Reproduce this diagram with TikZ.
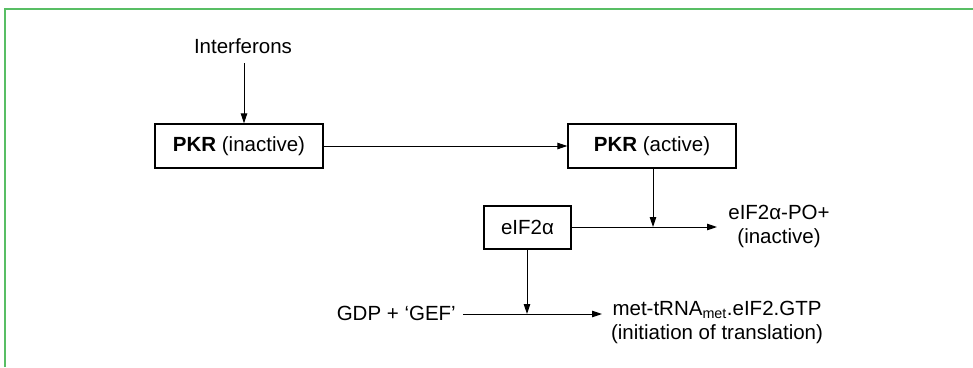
\documentclass[tikz,border=0pt]{standalone}
\usepackage{fontspec}
\setmainfont{Liberation Sans}
\usetikzlibrary{arrows.meta}
\definecolor{framegreen}{RGB}{88,190,100}
\tikzset{
  txt/.style={inner sep=0pt, font=\fontsize{20.5}{24}\selectfont, align=center},
  boxnode/.style={draw, line width=1.3pt, inner sep=0pt, font=\fontsize{20.5}{24}\selectfont},
  conn/.style={line width=1pt, -{Triangle[length=10pt,width=6.5pt]}},
  plain/.style={line width=1pt}
}
\begin{document}
\begin{tikzpicture}[x=1pt,y=-1pt]
\useasboundingbox (0,0) rectangle (973,367);
% frame
\draw[framegreen, line width=2.2pt] (5,367) -- (5,8.7) -- (973,8.7);
% nodes
\node[txt] (inter) at (243,46) {Interferons};
\node[boxnode, minimum width=168pt, minimum height=44pt] (pkri) at (239,146) {\textbf{PKR} (inactive)};
\node[boxnode, minimum width=168pt, minimum height=44pt] (pkra) at (652,146) {\textbf{PKR} (active)};
\node[boxnode, minimum width=87pt, minimum height=43pt] (eif) at (527.5,227.5) {eIF2α};
\node[txt] (po) at (779,226) {eIF2α-PO+\\(inactive)};
\node[txt, anchor=east] (gdp) at (456,313) {GDP + ‘GEF’};
\node[txt] (met) at (717,322) {met-tRNA\textsubscript{met}.eIF2.GTP\\(initiation of translation)};
% connector coordinates
\coordinate (i1) at (244,63);
\coordinate (j1) at (653,227);
\coordinate (j2) at (527,314);
\coordinate (e1) at (717,227);
\coordinate (e2) at (602,314);
\coordinate (g1) at (463,314);
% connectors
\draw[conn] (i1) -- (i1 |- pkri.north);
\draw[conn] (pkri.east) -- (pkra.west);
\draw[conn] (pkra.south -| j1) -- (j1);
\draw[conn] (eif.east |- e1) -- (e1);
\draw[conn] (eif.south -| j2) -- (j2);
\draw[conn] (g1) -- (e2);
\end{tikzpicture}
\end{document}
